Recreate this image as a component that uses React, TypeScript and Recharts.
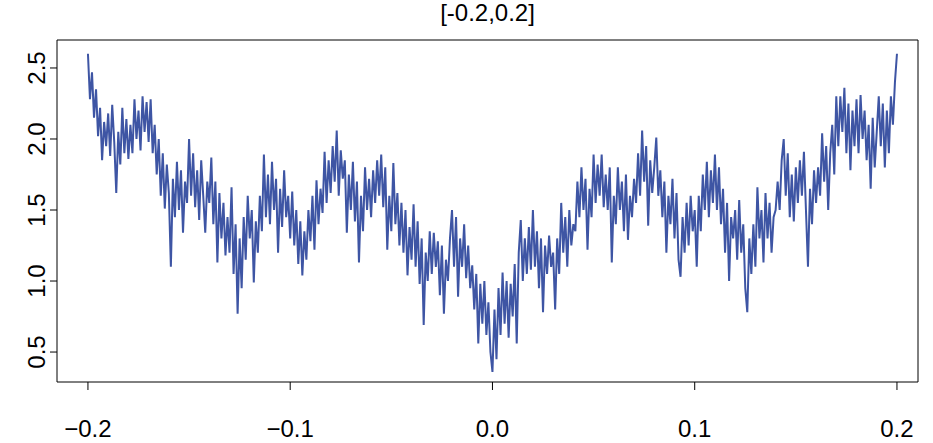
import { LineChart, Line, XAxis, YAxis, ReferenceArea } from 'recharts';

// tick positions
const xTicks = [-0.2, -0.1, 0, 0.1, 0.2];
const yTicks = [0.5, 1.0, 1.5, 2.0, 2.5];

// sampled every 0.001 from -0.200 to -0.001
const leftHalf = [
  2.6, 2.28, 2.47, 2.15, 2.35, 2.02, 2.22, 1.85, 2.12, 1.95,
  2.18, 1.88, 2.24, 1.98, 1.62, 2.05, 1.82, 2.22, 1.9, 2.14,
  1.86, 2.1, 1.9, 2.28, 2.0, 2.2, 1.92, 2.3, 2.05, 2.26,
  1.98, 2.28, 1.9, 2.1, 1.75, 2.0, 1.6, 1.9, 1.51, 1.82,
  1.62, 1.1, 1.72, 1.45, 1.84, 1.5, 1.78, 1.34, 1.7, 1.55,
  2.0, 1.6, 1.9, 1.52, 1.78, 1.43, 1.85, 1.6, 1.34, 1.7,
  1.55, 1.87, 1.4, 1.7, 1.13, 1.62, 1.3, 1.55, 1.18, 1.45,
  1.2, 1.66, 1.05, 1.4, 0.77, 1.3, 0.95, 1.45, 1.15, 1.6,
  1.3, 1.5, 0.99, 1.42, 1.2, 1.6, 1.35, 1.89, 1.45, 1.75,
  1.4, 1.84, 1.5, 1.72, 1.2, 1.65, 1.38, 1.78, 1.45, 1.6,
  1.3, 1.63, 1.25, 1.5, 1.12, 1.42, 1.04, 1.35, 1.15, 1.5,
  1.28, 1.6, 1.22, 1.71, 1.4, 1.65, 1.48, 1.91, 1.55, 1.85,
  1.62, 1.95, 1.7, 2.06, 1.6, 1.92, 1.72, 1.85, 1.34, 1.75,
  1.5, 1.84, 1.42, 1.7, 1.13, 1.6, 1.35, 1.8, 1.5, 1.72,
  1.45, 1.78, 1.55, 1.85, 1.6, 1.89, 1.52, 1.8, 1.22, 1.6,
  1.35, 1.83, 1.4, 1.62, 1.25, 1.55, 1.2, 1.5, 1.04, 1.38,
  1.15, 1.54, 1.1, 1.42, 0.98, 1.3, 0.69, 1.2, 1.0, 1.35,
  1.05, 1.34, 1.1, 1.28, 0.9, 1.25, 0.77, 1.15, 1.0, 1.3,
  1.5, 1.1, 1.45, 0.89, 1.3, 1.1, 1.4, 1.02, 1.25, 0.95,
  1.11, 0.8, 1.05, 0.56, 0.98, 0.7, 1.0, 0.62, 0.85, 0.5,
];

const centre = [0.36];

// sampled every 0.001 from 0.001 to 0.200
const rightHalf = [
  0.8, 0.45, 0.95, 0.62, 1.06, 0.7, 1.0, 0.6, 0.98, 0.75,
  1.12, 0.56, 1.2, 1.43, 1.0, 1.3, 1.05, 1.38, 1.08, 1.5,
  1.1, 1.35, 0.95, 1.3, 0.78, 1.25, 1.05, 1.32, 1.1, 1.2,
  0.8, 1.3, 1.05, 1.55, 1.2, 1.45, 1.1, 1.5, 1.25, 1.4,
  1.35, 1.7, 1.45, 1.8, 1.5, 1.72, 1.22, 1.65, 1.45, 1.89,
  1.55, 1.82, 1.6, 1.89, 1.52, 1.75, 1.5, 1.8, 1.13, 1.6,
  1.4, 1.8, 1.5, 1.7, 1.35, 1.75, 1.29, 1.6, 1.45, 1.72,
  1.55, 1.9, 1.6, 2.06, 1.7, 1.95, 1.39, 1.85, 1.62, 1.8,
  2.01, 1.6, 1.78, 1.45, 1.7, 1.2, 1.6, 1.4, 1.72, 1.3,
  1.62, 1.15, 1.03, 1.45, 1.2, 1.55, 1.25, 1.6, 1.35, 1.5,
  1.1, 1.6, 1.35, 1.75, 1.5, 1.84, 1.45, 1.78, 1.55, 1.89,
  1.5, 1.8, 1.4, 1.65, 1.2, 1.55, 1.0, 1.45, 1.3, 1.5,
  1.15, 1.57, 1.2, 1.4, 0.95, 0.78, 1.3, 1.05, 1.4, 1.1,
  1.66, 1.3, 1.5, 1.13, 1.62, 1.3, 1.55, 1.2, 1.45, 1.5,
  1.7, 1.5, 1.85, 2.0, 1.6, 1.9, 1.45, 1.75, 1.42, 1.8,
  1.55, 1.85, 1.6, 1.91, 1.5, 1.1, 1.65, 1.4, 1.78, 1.55,
  1.8, 1.6, 2.04, 1.7, 1.95, 1.5, 1.9, 2.1, 1.75, 2.3,
  1.95, 2.3, 2.05, 2.36, 1.9, 2.25, 1.78, 2.2, 1.95, 2.28,
  1.9, 2.31, 2.0, 2.2, 1.85, 2.1, 1.65, 2.15, 1.8, 2.05,
  2.3, 1.95, 2.25, 1.8, 2.2, 1.9, 2.3, 2.1, 2.4, 2.6,
];

const values = [...leftHalf, ...centre, ...rightHalf];
const data = values.map((y, i) => ({ x: Math.round((-0.2 + i * 0.001) * 1000) / 1000, y }));

const X_DOMAIN: [number, number] = [-0.2153, 0.2104];
const Y_DOMAIN: [number, number] = [0.289, 2.697];
const FONT = '"Liberation Sans", Arial, Helvetica, sans-serif';

const fmtX = (v: number) => (v === 0 ? '0.0' : v < 0 ? '\u2212' + Math.abs(v).toFixed(1) : v.toFixed(1));

function XTick(props: any) {
  const { x, payload } = props;
  return (
    <text x={x} y={437} textAnchor="middle" fontSize={24} fill="#000" fontFamily={FONT}>
      {fmtX(payload.value)}
    </text>
  );
}

function YTick(props: any) {
  const { y, payload } = props;
  return (
    <text x={0} y={0} transform={`translate(45, ${y}) rotate(-90)`} textAnchor="middle" fontSize={24} fill="#000" fontFamily={FONT}>
      {payload.value.toFixed(1)}
    </text>
  );
}

export default function App() {
  return (
    <div style={{ position: 'absolute', left: 0, top: 0, width: 933, height: 443, background: '#fff', fontFamily: FONT }}>
      <div style={{ position: 'absolute', left: 57, width: 861, top: 0, textAlign: 'center', fontSize: 24, lineHeight: '26px' }}>
        [-0.2,0.2]
      </div>
      <LineChart width={933} height={443} data={data} margin={{ top: 40, right: 15, bottom: 0, left: 0 }}>
        <XAxis
          dataKey="x"
          type="number"
          domain={X_DOMAIN}
          ticks={xTicks}
          allowDataOverflow
          axisLine={false}
          tickLine={{ stroke: '#000' }}
          tickSize={8}
          height={61}
          tick={<XTick />}
          interval={0}
        />
        <YAxis
          dataKey="y"
          type="number"
          domain={Y_DOMAIN}
          ticks={yTicks}
          allowDataOverflow
          axisLine={false}
          tickLine={{ stroke: '#000' }}
          tickSize={7}
          width={57}
          tick={<YTick />}
          interval={0}
        />
        <ReferenceArea x1={X_DOMAIN[0]} x2={X_DOMAIN[1]} y1={Y_DOMAIN[0]} y2={Y_DOMAIN[1]} fill="none" stroke="#000" strokeWidth={1} fillOpacity={0} />
        <Line type="linear" dataKey="y" stroke="#3E55A4" strokeWidth={2} dot={false} isAnimationActive={false} />
      </LineChart>
    </div>
  );
}
